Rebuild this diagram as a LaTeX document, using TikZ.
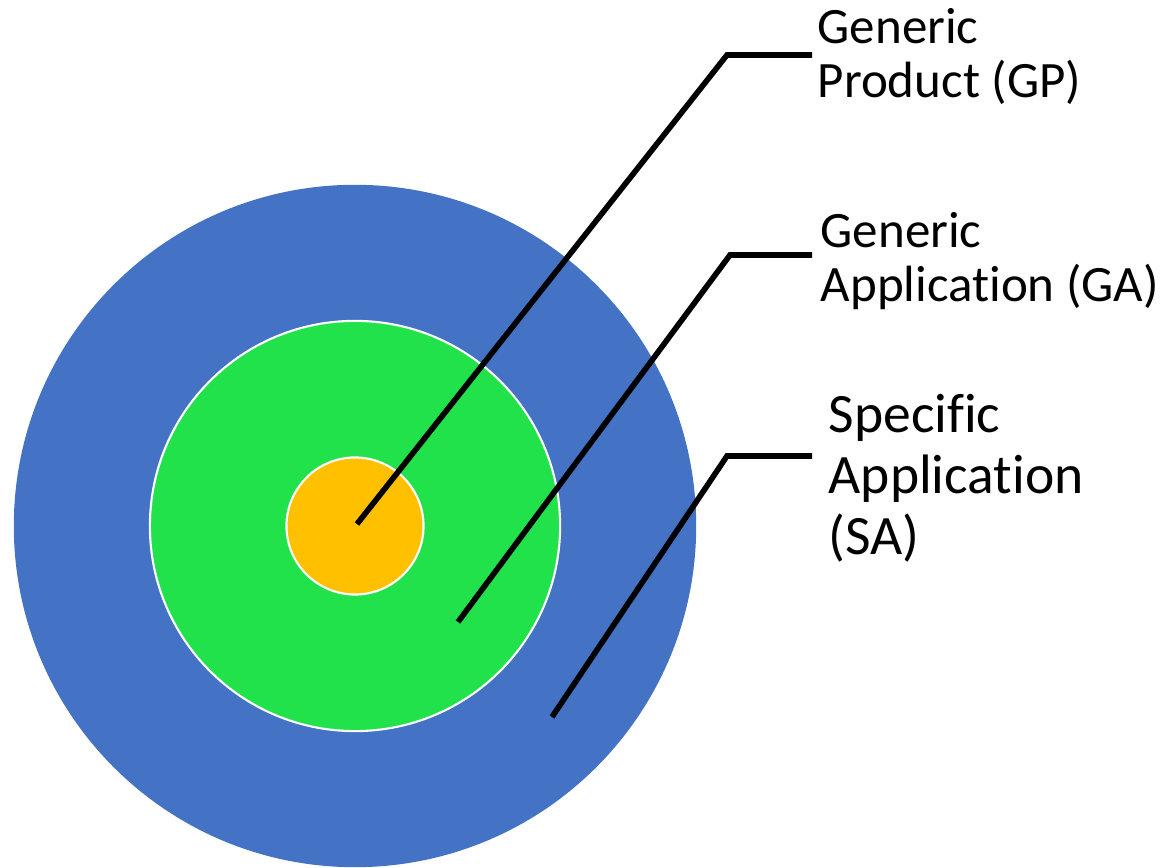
\documentclass[tikz,border=0pt]{standalone}
\usepackage{fontspec}
\setmainfont{Carlito}[Ligatures=NoCommon]
\definecolor{SAblue}{HTML}{4472C4}
\definecolor{GAgreen}{HTML}{22E24B}
\definecolor{GPyellow}{HTML}{FFC000}

\begin{document}
\begin{tikzpicture}[x=0.01cm,y=-0.01cm,
    ring/.style={circle,draw=white,line width=0.6pt,inner sep=0pt},
    callout/.style={line width=1.6pt,black},
    ringlabel/.style={anchor=base west,align=left,inner sep=0pt,font=\fontsize{14.5}{15.6}\selectfont}]
    \useasboundingbox (0,0) rectangle (1161,868);
    \node[ring,fill=SAblue,draw=none,minimum size=6.82cm] (SA) at (355,526) {};
    \node[ring,fill=GAgreen,minimum size=4.1cm] (GA) at (355,526) {};
    \node[ring,fill=GPyellow,minimum size=1.37cm] (GP) at (355,526) {};
    \coordinate (GP-tip) at (357,524);
    \coordinate (GP-bend) at (727,55);
    \coordinate (GP-end) at (812,55);
    \coordinate (GA-tip) at (458,622);
    \coordinate (GA-bend) at (730,255);
    \coordinate (GA-end) at (812,255);
    \coordinate (SA-tip) at (552,717);
    \coordinate (SA-bend) at (727,456);
    \coordinate (SA-end) at (812,456);
    \draw[callout] (GP-tip) -- (GP-bend) -- (GP-end);
    \draw[callout] (GA-tip) -- (GA-bend) -- (GA-end);
    \draw[callout] (SA-tip) -- (SA-bend) -- (SA-end);
    \node[ringlabel] (GP-text) at (817,98) {Generic\\Product (GP)};
    \node[ringlabel] (GA-text) at (820,302) {Generic\\Application (GA)};
    \node[ringlabel,font=\fontsize{15.8}{17.4}\selectfont] (SA-text) at (828,555) {Specific\\Application\\(SA)};
\end{tikzpicture}
\end{document}
